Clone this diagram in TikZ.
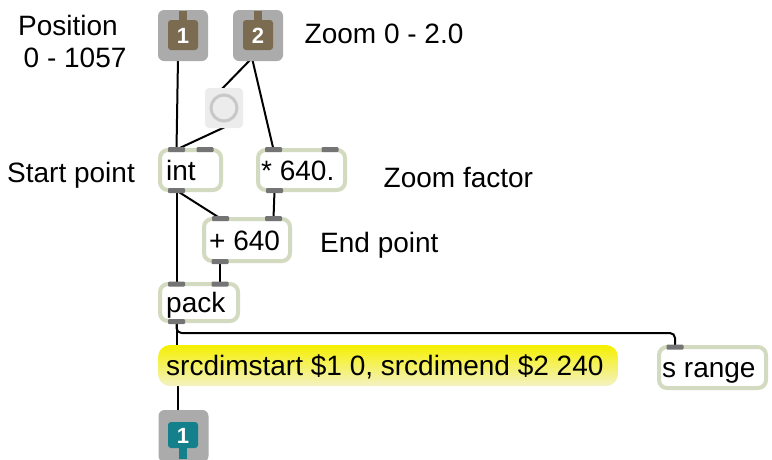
\documentclass[tikz,border=0pt]{standalone}
\usepackage{fontspec}
\setmainfont{Liberation Sans}
\usetikzlibrary{backgrounds}
\definecolor{inletgray}{HTML}{ABABAB}
\definecolor{inbrown}{HTML}{7B6B50}
\definecolor{outteal}{HTML}{13808C}
\definecolor{btnfill}{HTML}{ECECEC}
\definecolor{btnring}{HTML}{C8C8C8}
\definecolor{objborder}{HTML}{D2DAC0}
\definecolor{portgray}{HTML}{747474}
\definecolor{msgtop}{HTML}{F5F000}
\definecolor{msgbottom}{HTML}{F4F2C4}
\begin{document}
\begin{tikzpicture}[x=1pt,y=-1pt,
  lbl/.style={anchor=base west, inner sep=0pt, font=\fontsize{28}{30}\selectfont},
  obj/.style={draw=objborder, line width=4pt, fill=white, rounded corners=8pt, inner sep=0pt},
  port/.style={fill=portgray, inner sep=0pt, minimum width=17pt, minimum height=5pt, rounded corners=1pt},
  cord/.style={draw=black, line width=2pt},
  iobox/.style={fill=inletgray, rounded corners=6pt, inner sep=0pt, minimum width=50pt, minimum height=51pt},
  ionum/.style={text=white, font=\fontsize{22}{22}\selectfont\bfseries, inner sep=0pt}]
\useasboundingbox (0,0) rectangle (772,459);

% inlets
\node[iobox] (in1) at (183,35.5) {};
\fill[inbrown, rounded corners=3pt] (168,20) rectangle (198,50);
\fill[inbrown] (179,11) rectangle (187,22);
\node[ionum] (in1num) at (183,36) {1};
\coordinate (in1-o) at (178,58);

\node[iobox] (in2) at (258,35.5) {};
\fill[inbrown, rounded corners=3pt] (243,20) rectangle (273,50);
\fill[inbrown] (254,11) rectangle (262,22);
\node[ionum] (in2num) at (258,36) {2};
\coordinate (in2-o) at (252,58);

% button
\node[fill=btnfill, rounded corners=4pt, inner sep=0pt, minimum width=38pt, minimum height=40pt] (btn) at (224,108) {};
\draw[btnring, line width=3pt] (224,108) circle (13pt);
\coordinate (btn-i) at (218,93);
\coordinate (btn-o) at (225,127);

% objects
\node[obj, minimum width=61pt, minimum height=40pt] (int) at (190.5,170) {};
\node[port] (int-i1) at (176.5,149.5) {};
\node[port] (int-i2) at (205,149.5) {};
\node[port] (int-o) at (176.5,190.5) {};
\node[lbl] (intlbl) at (166,180) {int};

\node[obj, minimum width=87pt, minimum height=40pt] (mul) at (301.5,170) {};
\node[port] (mul-i1) at (273.5,149.5) {};
\node[port] (mul-i2) at (330,149.5) {};
\node[port] (mul-o) at (274.5,190.5) {};
\node[lbl] (mullbl) at (261,180) {* 640.};

\node[obj, minimum width=86pt, minimum height=42pt] (add) at (247,240) {};
\node[port] (add-i1) at (220.5,218.5) {};
\node[port] (add-i2) at (273.5,218.5) {};
\node[port] (add-o) at (220,261.5) {};
\node[lbl] (addlbl) at (209,250) {+ 640};

\node[obj, minimum width=78pt, minimum height=37pt] (pack) at (199,302.5) {};
\node[port] (pack-i1) at (176.5,284) {};
\node[port] (pack-i2) at (220,284) {};
\node[port] (pack-o) at (176.5,321.5) {};
\node[lbl] (packlbl) at (166,312) {pack};

\node[top color=msgtop, bottom color=msgbottom, rounded corners=12pt, inner sep=0pt, minimum width=460pt, minimum height=41pt] (msg) at (388,365.5) {};
\node[lbl] (msglbl) at (166,375) {srcdimstart \$1 0, srcdimend \$2 240};

\node[obj, minimum width=107pt, minimum height=41pt] (srange) at (712.5,367.5) {};
\node[port] (sr-i) at (675,347) {};
\node[lbl] (srlbl) at (662,377) {s range};
\coordinate (sr-bend) at (675,333);

% outlet
\node[iobox, minimum height=52pt] (out1) at (183.5,436) {};
\fill[outteal, rounded corners=3pt] (168,422) rectangle (198,448);
\fill[outteal] (179,446) rectangle (187,459);
\node[ionum] (out1num) at (183,435.5) {1};
\coordinate (out1-i) at (178,414);

% comments
\node[lbl] (c1) at (18,35) {Position};
\node[lbl] (c2) at (23.5,67) {0 - 1057};
\node[lbl] (c3) at (304.5,43) {Zoom 0 - 2.0};
\node[lbl] (c4) at (7,182) {Start point};
\node[lbl] (c5) at (383.5,187) {Zoom factor};
\node[lbl] (c6) at (320,252) {End point};

% patch cords
\begin{scope}[on background layer]
\draw[cord] (in1-o) -- (int-i1.center);
\draw[cord] (in2-o) -- (btn-i);
\draw[cord] (in2-o) -- (mul-i1.center);
\draw[cord] (btn-o) -- (int-i1.center);
\draw[cord] (int-o.center) -- (add-i1.center);
\draw[cord] (int-o.center) -- (pack-i1.center);
\draw[cord] (mul-o.center) -- (add-i2.center);
\draw[cord] (add-o.center) -- (pack-i2.center);
\draw[cord] (pack-o.center) -- (msg.north -| pack-o);
\draw[cord, rounded corners=5pt] (pack-o.center) |- (sr-bend) -- (sr-i.center);
\draw[cord] (msg.south -| out1-i) -- (out1-i);
\end{scope}
\end{tikzpicture}
\end{document}
